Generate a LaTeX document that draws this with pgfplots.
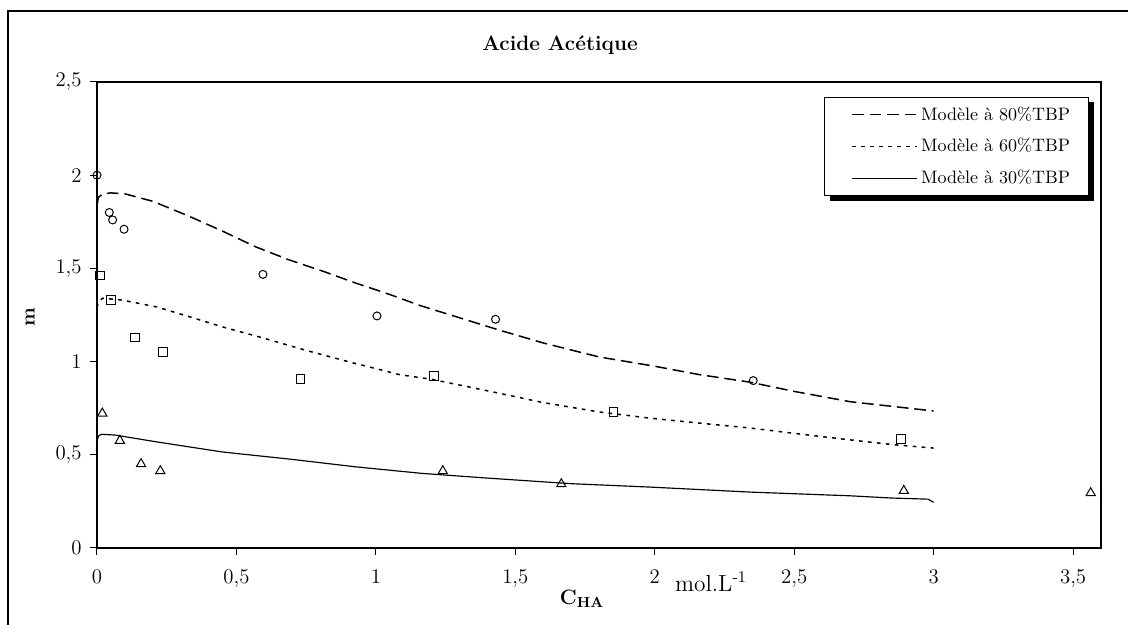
\documentclass[border=0pt]{standalone}
\usepackage{pgfplots}
\pgfplotsset{compat=1.18}

\begin{document}
\begin{tikzpicture}[x=0.6pt,y=0.6pt]
% page frame (1 unit = 1 px of the reference)
\useasboundingbox (0,0) rectangle (1128,625);
\draw[line width=1.2pt] (8,0) -- (8,614) -- (1128,614);
% legend shadow, drawn first so the legend box covers it
\fill[black] (830,424) rectangle (1094,523);

\begin{axis}[
    at={(58.2pt,46.2pt)}, anchor=south west,
    scale only axis,
    width=602.4pt, height=279.6pt,
    xmin=0, xmax=3.6, ymin=0, ymax=2.5,
    xtick={0,0.5,1,1.5,2,2.5,3,3.5},
    ytick={0,0.5,1,1.5,2,2.5},
    tick align=outside, xtick pos=bottom, ytick pos=left,
    major tick length=4.2pt,
    axis line style={line width=0.9pt},
    tick style={line width=0.6pt, black},
    /pgf/number format/use comma,
    /pgf/number format/assume math mode=true,
    tick label style={font=\fontsize{12.5}{14}\selectfont},
    xticklabel style={yshift=-5pt},
    yticklabel style={xshift=-1.5pt},
    legend style={
        at={(rel axis cs:0.988,0.968)}, anchor=north east,
        draw=black, line width=0.6pt, fill=white,
        font=\fontsize{10.8}{12}\selectfont,
        row sep=5.5pt, inner xsep=9pt, inner ysep=3.5pt,
        cells={anchor=west}
    },
    legend image code/.code={\path (0pt,0pt); \draw[#1] (7pt,0pt) -- (46pt,0pt);},
    clip=false
]
\addplot[black, line width=0.9pt, dash pattern=on 7pt off 3.5pt] coordinates {
(0,1.84) (0.005,1.88) (0.02,1.90) (0.05,1.905) (0.1,1.90) (0.2,1.86)
(0.33,1.78) (0.45,1.70) (0.57,1.615) (0.69,1.545) (0.81,1.485) (0.93,1.42)
(1.05,1.36) (1.16,1.30) (1.3,1.235) (1.44,1.17) (1.6,1.10) (1.8,1.025)
(2.0,0.975) (2.16,0.93) (2.34,0.89) (2.5,0.84) (2.7,0.785) (2.85,0.76) (3.0,0.735)};
\addlegendentry{Modèle à 80\%TBP}

\addplot[black, line width=0.9pt, dash pattern=on 2.2pt off 3.2pt] coordinates {
(0,1.29) (0.005,1.32) (0.02,1.34) (0.09,1.33) (0.215,1.293) (0.333,1.24)
(0.45,1.186) (0.595,1.127) (0.75,1.06) (0.9,1.0) (1.085,0.93) (1.2,0.905)
(1.443,0.83) (1.6,0.78) (1.8,0.73) (1.98,0.697) (2.16,0.67) (2.34,0.644)
(2.5,0.615) (2.7,0.58) (2.85,0.555) (3.0,0.536)};
\addlegendentry{Modèle à 60\%TBP}

\addplot[black, line width=0.7pt] coordinates {
(0,0.57) (0.005,0.60) (0.015,0.61) (0.064,0.606) (0.215,0.569) (0.45,0.515)
(0.69,0.477) (0.93,0.435) (1.167,0.40) (1.40,0.375) (1.7,0.345) (1.98,0.327)
(2.34,0.30) (2.70,0.28) (2.85,0.268) (2.98,0.262) (3.0,0.245)};
\addlegendentry{Modèle à 30\%TBP}

% measured points
\addplot[only marks, mark=o, mark size=2.4pt, black, line width=0.6pt, forget plot] coordinates {
(0,2.0) (0.044,1.80) (0.056,1.76) (0.097,1.71) (0.595,1.468) (1.004,1.245)
(1.429,1.227) (2.353,0.898)};
\addplot[only marks, mark=square, mark size=2.6pt, black, line width=0.6pt, forget plot] coordinates {
(0.011,1.461) (0.05,1.33) (0.137,1.13) (0.236,1.05) (0.73,0.907) (1.208,0.923)
(1.852,0.728) (2.883,0.585)};
\addplot[only marks, mark=triangle, mark size=3.2pt, black, line width=0.6pt, forget plot] coordinates {
(0.019,0.722) (0.082,0.576) (0.158,0.451) (0.227,0.413) (1.24,0.413)
(1.665,0.343) (2.893,0.307) (3.563,0.295)};
\end{axis}

% titles and axis labels
\node at (560,580) {\fontsize{12.5}{14}\selectfont\bfseries Acide Acétique};
\node[rotate=90] at (30,308) {\fontsize{12}{13}\selectfont\bfseries m};
\node at (582,26) {\fontsize{12.5}{13}\selectfont\bfseries C\textsubscript{HA}};
\node at (711,43) {\fontsize{14}{15}\selectfont mol.L\textsuperscript{-1}};
\end{tikzpicture}
\end{document}
